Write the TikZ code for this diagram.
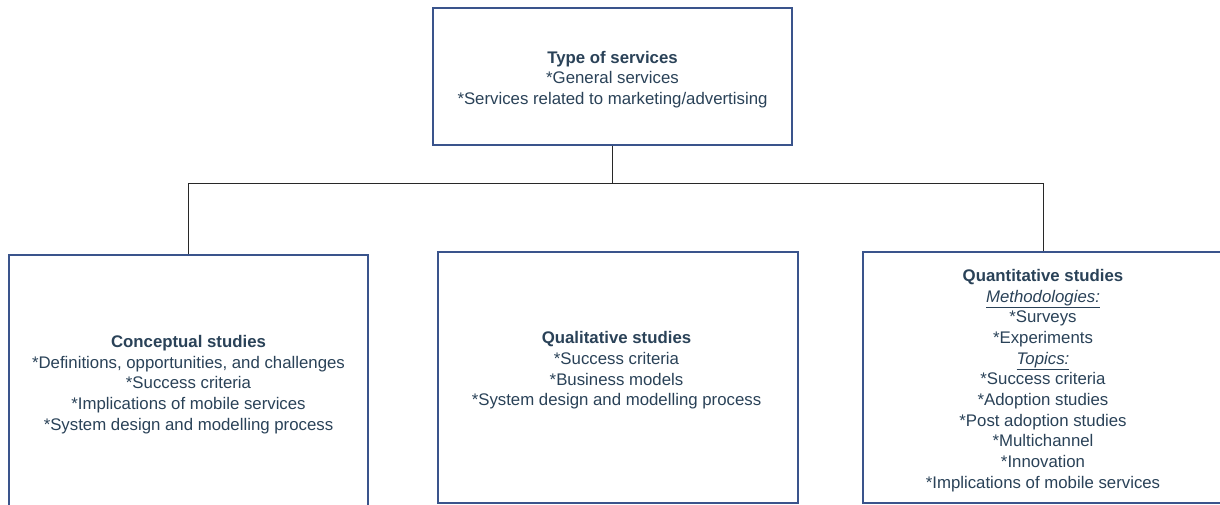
\documentclass[tikz,border=0pt]{standalone}
\usepackage{fontspec}
\setmainfont{Liberation Sans}
\definecolor{boxline}{RGB}{58,84,140}
\definecolor{boxtext}{RGB}{42,66,88}
\definecolor{wire}{RGB}{40,40,40}
\begin{document}
\begin{tikzpicture}[x=1pt,y=-1pt,
  box/.style={draw=boxline,line width=1.1pt,fill=white,rectangle,inner sep=0pt},
  boxlabel/.style={text=boxtext,align=center,font=\fontsize{16.8}{20.7}\selectfont,inner sep=0pt},
  wireline/.style={draw=wire,line width=0.9pt}]
\useasboundingbox (0,0) rectangle (1220,504);
\clip (0,0) rectangle (1220,504);

% boxes
\node[box,minimum width=359pt,minimum height=137pt] (top) at (612.5,76.5) {};
\node[box,minimum width=359pt,minimum height=254pt] (left) at (188.5,382) {};
\node[box,minimum width=360pt,minimum height=251pt] (mid) at (618,377.5) {};
\node[box,minimum width=360pt,minimum height=251pt] (right) at (1043,377.5) {};

% connectors
\coordinate (joint) at (612.5,183.5);
\draw[wireline] (top.south) -- (joint);
\draw[wireline] (left.north) |- (joint);
\draw[wireline] (joint) -| (right.north);

% texts
\node[boxlabel] (toptext) at (612.5,79.5) {\textbf{Type of services}\\
  *General services\\
  *Services related to marketing/advertising};
\node[boxlabel] (lefttext) at (188.5,384.5) {\textbf{Conceptual studies}\\
  *Definitions, opportunities, and challenges\\
  *Success criteria\\
  *Implications of mobile services\\
  *System design and modelling process};
\node[boxlabel] (midtext) at (616.5,370.5) {\textbf{Qualitative studies}\\
  *Success criteria\\
  *Business models\\
  *System design and modelling process};
\node[boxlabel] (righttext) at (1043,380.5) {\textbf{Quantitative studies}\\
  \underline{\textit{Methodologies:}}\\
  *Surveys\\
  *Experiments\\
  \underline{\textit{Topics:}}\\
  *Success criteria\\
  *Adoption studies\\
  *Post adoption studies\\
  *Multichannel\\
  *Innovation\\
  *Implications of mobile services};
\end{tikzpicture}
\end{document}
